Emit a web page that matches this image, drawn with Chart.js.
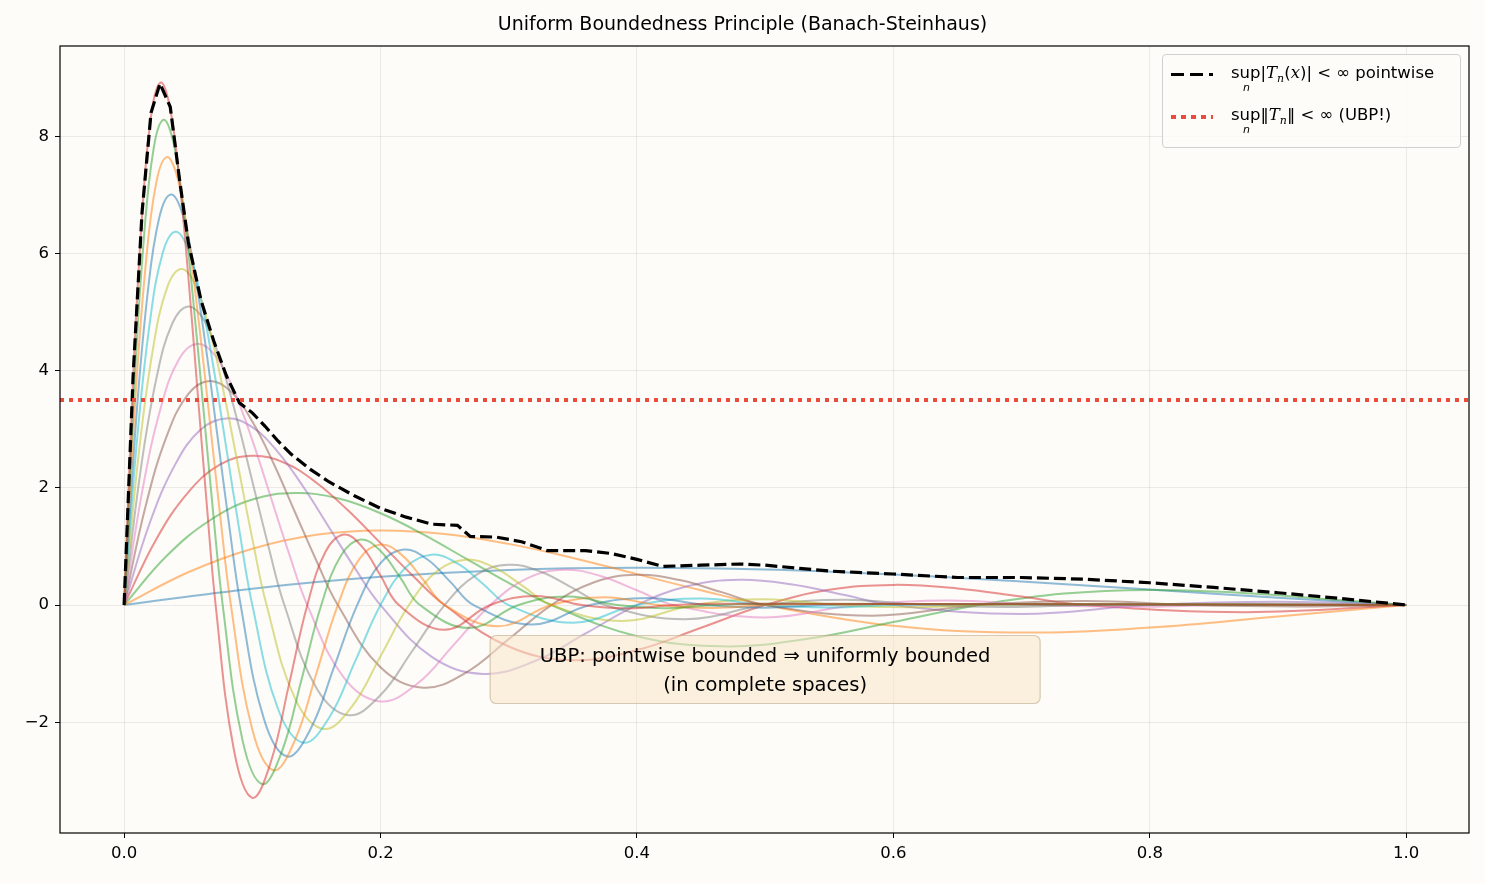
<!DOCTYPE html>
<html>
<head>
<meta charset="utf-8">
<script src="https://cdn.jsdelivr.net/npm/chart.js@4"></script>
<style>
  html, body { margin: 0; padding: 0; background: #fdfcf8; }
  #wrap { position: relative; width: 1485px; height: 884px; }
  #title { position: absolute; top: 12px; left: 0; width: 1485px; text-align: center;
           font: 19px "DejaVu Sans", sans-serif; color: #000; }
  #legend { position: absolute; left: 1162px; top: 54px; width: 299px; height: 94px;
            border: 1px solid #d0d0d0; border-radius: 4px; background: rgba(253,252,248,0.85);
            font: 16.5px "DejaVu Sans", sans-serif; color: #000; box-sizing: border-box; }
  .item { position: absolute; left: 8px; height: 40px; }
  .sample { position: absolute; left: 0; top: 10px; width: 42px; height: 4px; }
  .txt { position: absolute; left: 60px; top: 0; white-space: nowrap; }
  .sup { position: relative; display: inline-block; }
  .sub { position: absolute; left: 12px; top: 18px; font-size: 11px; font-style: italic; }
  i { font-family: "DejaVu Serif", serif; }
</style>
</head>
<body>
<div id="wrap">
  <canvas id="c" width="1485" height="884"></canvas>
  <div id="title">Uniform Boundedness Principle (Banach-Steinhaus)</div>
  <div id="legend">
    <div class="item" style="top:8px">
      <div class="sample" style="background:repeating-linear-gradient(90deg,#000 0 13px,transparent 13px 19px);height:3px"></div>
      <div class="txt"><span class="sup">sup<span class="sub">n</span></span>|<i>T<sub style="font-size:11px">n</sub></i>(<i>x</i>)| &lt; ∞ pointwise</div>
    </div>
    <div class="item" style="top:50px">
      <div class="sample" style="background:repeating-linear-gradient(90deg,#e74c3c 0 5px,transparent 5px 10px)"></div>
      <div class="txt"><span class="sup">sup<span class="sub">n</span></span>‖<i>T<sub style="font-size:11px">n</sub></i>‖ &lt; ∞ (UBP!)</div>
    </div>
  </div>
</div>
<script>
// ---- data: [x, T_n(x)] ----
const T1 = [[0,0],[.1,.28],[.2,.481],[.3,.6],[.4,.637],[.5,.607],[.6,.522],[.7,.402],[.8,.264],[.9,.126],[1,0]];
const T2 = [[0,0],[.05,.56],[.1,.962],[.15,1.2],[.2,1.274],[.25,1.214],[.3,1.044],[.35,.804],[.4,.528],[.45,.252],[.5,0],[.6,-.354],[.7,-.47],[.8,-.384],[.9,-.194],[1,0]];
const T3 = [[0,0],[.0333,.84],[.0667,1.443],[.1,1.8],[.1333,1.911],[.1667,1.821],[.2,1.566],[.2333,1.206],[.2667,.792],[.3,.378],[.3333,0],[.4,-.531],[.4667,-.705],[.5333,-.576],[.6,-.291],[.6667,0],[.7333,.195],[.8,.258],[.8667,.213],[.9333,.108],[1,0]];
const T4 = [[0,0],[.025,1.12],[.05,1.924],[.075,2.4],[.1,2.548],[.125,2.428],[.15,2.088],[.175,1.608],[.2,1.056],[.225,.504],[.25,0],[.3,-.708],[.35,-.94],[.4,-.768],[.45,-.388],[.5,0],[.55,.26],[.6,.344],[.65,.284],[.7,.144],[.75,0],[.875,-.121],[1,0]];
const T5 = [[0,0],[.02,1.4],[.04,2.405],[.06,3.0],[.08,3.185],[.1,3.035],[.12,2.61],[.14,2.01],[.16,1.32],[.18,.63],[.2,0],[.24,-.885],[.28,-1.175],[.32,-.96],[.36,-.485],[.4,0],[.44,.325],[.48,.43],[.52,.355],[.56,.18],[.6,0],[.7,-.151],[.8,0],[.9,.056],[1,0]];
const T6 = [[0,0],[.0167,1.68],[.0333,2.886],[.05,3.6],[.0667,3.822],[.0833,3.642],[.1,3.132],[.1167,2.412],[.1333,1.584],[.15,.756],[.1667,0],[.2,-1.062],[.2333,-1.41],[.2667,-1.152],[.3,-.582],[.3333,0],[.3667,.39],[.4,.516],[.4333,.426],[.4667,.216],[.5,0],[.5833,-.181],[.6667,0],[.75,.067],[.8333,0],[.9167,-.025],[1,0]];
const T7 = [[0,0],[.0143,1.96],[.0286,3.367],[.0429,4.2],[.0571,4.459],[.0714,4.249],[.0857,3.654],[.1,2.814],[.1143,1.848],[.1286,.882],[.1429,0],[.1714,-1.239],[.2,-1.645],[.2286,-1.344],[.2571,-.679],[.2857,0],[.3143,.455],[.3429,.602],[.3714,.497],[.4,.252],[.4286,0],[.5,-.211],[.5714,0],[.6429,.078],[.7143,0],[.7857,-.029],[.8571,0],[.9286,.011],[1,0]];
const T8 = [[0,0],[.0125,2.24],[.025,3.848],[.0375,4.8],[.05,5.096],[.0625,4.856],[.075,4.176],[.0875,3.216],[.1,2.112],[.1125,1.008],[.125,0],[.15,-1.416],[.175,-1.88],[.2,-1.536],[.225,-.776],[.25,0],[.275,.52],[.3,.688],[.325,.568],[.35,.288],[.375,0],[.4375,-.242],[.5,0],[.5625,.089],[.625,0],[.6875,-.033],[.75,0],[.8125,.012],[1,0]];
const T9 = [[0,0],[.0111,2.52],[.0222,4.329],[.0333,5.4],[.0444,5.733],[.0556,5.463],[.0667,4.698],[.0778,3.618],[.0889,2.376],[.1,1.134],[.1111,0],[.1333,-1.593],[.1556,-2.115],[.1778,-1.728],[.2,-.873],[.2222,0],[.2444,.585],[.2667,.774],[.2889,.639],[.3111,.324],[.3333,0],[.3889,-.272],[.4444,0],[.5,.1],[.5556,0],[.6111,-.037],[.6667,0],[.7222,.014],[1,0]];
const T10 = [[0,0],[.01,2.8],[.02,4.81],[.03,6.0],[.04,6.37],[.05,6.07],[.06,5.22],[.07,4.02],[.08,2.64],[.09,1.26],[.1,0],[.12,-1.77],[.14,-2.35],[.16,-1.92],[.18,-.97],[.2,0],[.22,.65],[.24,.86],[.26,.71],[.28,.36],[.3,0],[.35,-.302],[.4,0],[.45,.111],[.5,0],[.55,-.041],[.6,0],[.65,.015],[1,0]];
const T11 = [[0,0],[.0091,3.08],[.0182,5.291],[.0273,6.6],[.0364,7.007],[.0455,6.677],[.0545,5.742],[.0636,4.422],[.0727,2.904],[.0818,1.386],[.0909,0],[.1091,-1.947],[.1273,-2.585],[.1455,-2.112],[.1636,-1.067],[.1818,0],[.2,.715],[.2182,.946],[.2364,.781],[.2545,.396],[.2727,0],[.3182,-.332],[.3636,0],[.4091,.122],[.4545,0],[.5,-.045],[.5455,0],[.5909,.017],[1,0]];
const T12 = [[0,0],[.0083,3.36],[.0167,5.772],[.025,7.2],[.0333,7.644],[.0417,7.284],[.05,6.264],[.0583,4.824],[.0667,3.168],[.075,1.512],[.0833,0],[.1,-2.124],[.1167,-2.82],[.1333,-2.304],[.15,-1.164],[.1667,0],[.1833,.78],[.2,1.032],[.2167,.852],[.2333,.432],[.25,0],[.2917,-.362],[.3333,0],[.375,.133],[.4167,0],[.4583,-.049],[.5,0],[.5417,.018],[1,0]];
const T13 = [[0,0],[.0077,3.64],[.0154,6.253],[.0231,7.8],[.0308,8.281],[.0385,7.891],[.0462,6.786],[.0538,5.226],[.0615,3.432],[.0692,1.638],[.0769,0],[.0923,-2.301],[.1077,-3.055],[.1231,-2.496],[.1385,-1.261],[.1538,0],[.1692,.845],[.1846,1.118],[.2,.923],[.2154,.468],[.2308,0],[.2692,-.393],[.3077,0],[.3462,.144],[.3846,0],[.4231,-.053],[.4615,0],[.5,.02],[1,0]];
const T14 = [[0,0],[.0071,3.92],[.0143,6.734],[.0214,8.4],[.0286,8.918],[.0357,8.498],[.0429,7.308],[.05,5.628],[.0571,3.696],[.0643,1.764],[.0714,0],[.0857,-2.478],[.1,-3.29],[.1143,-2.688],[.1286,-1.358],[.1429,0],[.1571,.91],[.1714,1.204],[.1857,.994],[.2,.504],[.2143,0],[.25,-.423],[.2857,0],[.3214,.155],[.3571,0],[.3929,-.057],[.4286,0],[.4643,.021],[1,0]];
const supPointwise = [[0,0],[.007,3.9],[.014,6.7],[.021,8.4],[.028,8.9],[.036,8.5],[.043,7.3],[.05,6.2],[.06,5.2],[.07,4.5],[.08,3.9],[.09,3.45],[.1,3.28],[.11,3.05],[.12,2.8],[.13,2.58],[.145,2.32],[.16,2.1],[.18,1.86],[.2,1.65],[.22,1.5],[.24,1.38],[.26,1.36],[.27,1.17],[.29,1.16],[.31,1.08],[.33,.93],[.36,.93],[.38,.88],[.4,.78],[.42,.66],[.45,.68],[.48,.7],[.5,.68],[.55,.58],[.6,.53],[.65,.47],[.7,.47],[.75,.44],[.8,.38],[.85,.3],[.9,.21],[.95,.11],[1,0]];
const ubpLevel = 3.5;
const xTicks = [0, 0.2, 0.4, 0.6, 0.8, 1.0];
const yTicks = [-2, 0, 2, 4, 6, 8];

const curves = [T1,T2,T3,T4,T5,T6,T7,T8,T9,T10,T11,T12,T13,T14];
const tab10 = ['31,119,180','255,127,14','44,160,44','214,39,40','148,103,189','140,86,75','227,119,194','127,127,127','188,189,34','23,190,207'];
const pts = a => a.map(p => ({x: p[0], y: p[1]}));

const datasets = curves.map((c, i) => ({
    data: pts(c),
    borderColor: 'rgba(' + tab10[i % 10] + ',0.5)',
    borderWidth: 2,
    tension: 0.4,
    order: 100 - i
}));
datasets.push({ data: pts(supPointwise), borderColor: '#000', borderWidth: 3.2, borderDash: [12, 5], tension: 0, order: 1 });
datasets.push({ data: [{x: -0.05, y: ubpLevel}, {x: 1.05, y: ubpLevel}], borderColor: '#e74c3c', borderWidth: 4, borderDash: [4, 5], order: 0 });

const frameAndNote = {
    id: 'frameAndNote',
    afterDraw(chart) {
        const {ctx, chartArea: a, scales} = chart;
        const cx = scales.x.getPixelForValue(0.5), cy = scales.y.getPixelForValue(-1.1);
        const w = 550, h = 68, r = 6, x0 = cx - w / 2, y0 = cy - h / 2;
        ctx.save();
        ctx.beginPath();
        ctx.roundRect(x0, y0, w, h, r);
        ctx.fillStyle = 'rgba(249,230,200,0.55)';
        ctx.fill();
        ctx.strokeStyle = 'rgba(190,170,140,0.6)';
        ctx.lineWidth = 1.2;
        ctx.stroke();
        ctx.fillStyle = '#000';
        ctx.font = '19.5px "DejaVu Sans"';
        ctx.textAlign = 'center';
        ctx.textBaseline = 'middle';
        ctx.fillText('UBP: pointwise bounded \u21d2 uniformly bounded', cx, cy - 13);
        ctx.fillText('(in complete spaces)', cx, cy + 16);
        ctx.strokeStyle = '#000';
        ctx.lineWidth = 1.2;
        ctx.strokeRect(a.left, a.top, a.right - a.left, a.bottom - a.top);
        ctx.restore();
    }
};

new Chart(document.getElementById('c'), {
    type: 'scatter',
    data: { datasets },
    options: {
        responsive: false,
        animation: false,
        showLine: true,
        elements: { point: { radius: 0 } },
        layout: { padding: { top: 46, right: 16, left: 0, bottom: 0 } },
        plugins: { legend: { display: false }, tooltip: { enabled: false } },
        scales: {
            x: {
                type: 'linear', min: -0.05, max: 1.049,
                afterFit: s => { s.height = 51; },
                afterBuildTicks: s => { s.ticks = xTicks.map(v => ({value: v})); },
                ticks: { color: '#000', font: { size: 16.5, family: 'DejaVu Sans' }, padding: 6,
                         callback: v => v.toFixed(1) },
                grid: { color: 'rgba(0,0,0,0.07)', tickColor: '#000', tickLength: 5 },
                border: { display: false }
            },
            y: {
                min: -3.89, max: 9.54,
                afterFit: s => { s.width = 60; },
                afterBuildTicks: s => { s.ticks = yTicks.map(v => ({value: v})); },
                ticks: { color: '#000', font: { size: 16.5, family: 'DejaVu Sans' }, padding: 6,
                         callback: v => v < 0 ? '\u2212' + Math.abs(v) : String(v) },
                grid: { color: 'rgba(0,0,0,0.07)', tickColor: '#000', tickLength: 5 },
                border: { display: false }
            }
        }
    },
    plugins: [frameAndNote]
});
</script>
</body>
</html>
